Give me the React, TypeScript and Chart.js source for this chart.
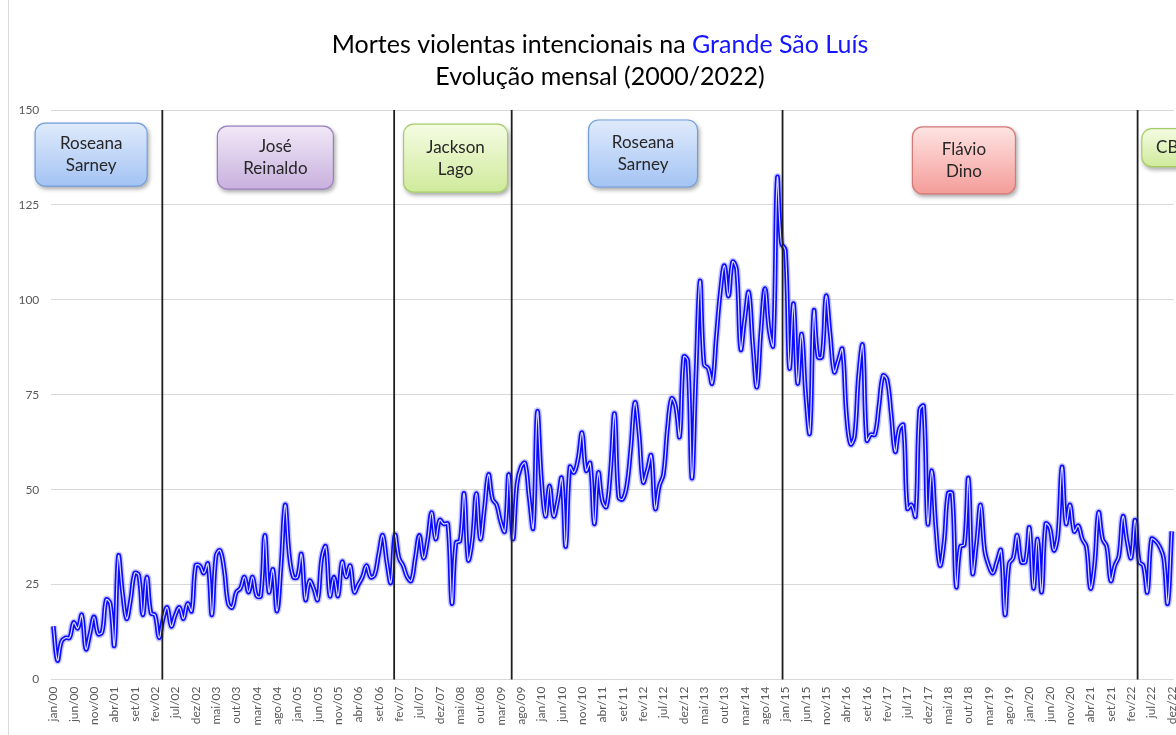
import React, { useEffect, useRef } from 'react';
import { Chart, registerables } from 'chart.js';

Chart.register(...registerables);

// ---- categories / tick labels ----
const monthNames = ['jan', 'fev', 'mar', 'abr', 'mai', 'jun', 'jul', 'ago', 'set', 'out', 'nov', 'dez'];
const yearLabels = ['00', '01', '02', '03', '04', '05', '06', '07', '08', '09', '10', '11', '12', '13', '14', '15', '16', '17', '18', '19', '20', '21', '22'];
const categories: string[] = yearLabels.flatMap((y) => monthNames.map((m) => `${m}/${y}`));
const yTicks = [0, 25, 50, 75, 100, 125, 150];

// ---- monthly values (Mortes violentas intencionais) ----
const mvi2000 = [14, 5, 10, 11, 11, 15, 13.5, 17, 8, 12, 16.5, 12];
const mvi2001 = [12.5, 21, 20, 9, 32.5, 23, 16, 21, 28, 27.5, 17, 27];
const mvi2002 = [17.5, 17, 11, 16, 19, 14, 17, 19, 16, 20, 18, 30];
const mvi2003 = [30, 28, 30.5, 17, 32.5, 34, 29, 20, 19, 23, 24, 27];
const mvi2004 = [23, 27, 22, 22, 38, 23, 29, 18, 30, 46, 33, 27];
const mvi2005 = [27, 33, 21, 26, 24, 21, 32, 35, 22, 27, 22, 31];
const mvi2006 = [27, 30, 23, 25, 27, 30, 27, 27.5, 33, 38, 31, 25.5];
const mvi2007 = [38, 32, 30, 27, 26, 32, 38, 32, 36.5, 44, 37, 42];
const mvi2008 = [41, 41, 20, 36, 36.5, 49, 31.5, 36.5, 49, 37, 45, 54];
const mvi2009 = [47.5, 46, 41.5, 39, 54, 37, 51.5, 56, 57, 48, 40, 70.5];
const mvi2010 = [53, 43, 51, 43, 47, 53, 35, 56, 54.5, 58, 65, 55];
const mvi2011 = [57, 41, 54.5, 47, 45.5, 55, 70, 48, 47.5, 51, 61, 73];
const mvi2012 = [65, 52, 55, 59, 45, 51, 54, 66, 74, 72, 64, 85];
const mvi2013 = [84, 53, 80, 105, 83, 82, 78, 90, 102, 109, 101, 110];
const mvi2014 = [108, 87, 95, 102, 88, 77, 92, 103, 92, 88, 132, 115];
const mvi2015 = [113, 82, 99, 78, 91, 75, 65, 97, 85, 85, 101, 91];
const mvi2016 = [81, 84, 87, 70, 62, 64, 80, 88, 63, 64.5, 64.5, 72];
const mvi2017 = [80, 79, 70, 60, 66, 67, 45, 46, 43, 71, 72, 41];
const mvi2018 = [55, 40, 30, 36, 49, 49, 24.5, 35, 35.5, 53, 28, 36];
const mvi2019 = [46, 34, 30, 28, 31, 34, 17, 30.5, 32, 38, 31, 31];
const mvi2020 = [40, 24, 37, 23, 41, 40, 34, 38, 56, 41, 46, 39];
const mvi2021 = [40.5, 37, 35, 24, 30, 44, 37, 35, 26, 30, 32.5, 43];
const mvi2022 = [36.5, 32, 42, 31, 30, 23, 37, 36.5, 35, 32, 20, 39];

const mvi: number[] = [
  ...mvi2000, ...mvi2001, ...mvi2002, ...mvi2003, ...mvi2004, ...mvi2005,
  ...mvi2006, ...mvi2007, ...mvi2008, ...mvi2009, ...mvi2010, ...mvi2011,
  ...mvi2012, ...mvi2013, ...mvi2014, ...mvi2015, ...mvi2016, ...mvi2017,
  ...mvi2018, ...mvi2019, ...mvi2020, ...mvi2021, ...mvi2022,
];

// ---- government changes (fractional month index) ----
const mandateBreaks = [26.8, 83.8, 112.7, 179.3, 266.6];

// ---- governor labels (month index of centre, value of top edge) ----
const governors = [
  { lines: ['Roseana', 'Sarney'], month: 9.3, topValue: 146.7, w: 113, h: 64, palette: 'blue' },
  { lines: ['José', 'Reinaldo'], month: 54.6, topValue: 145.9, w: 117, h: 64, palette: 'purple' },
  { lines: ['Jackson', 'Lago'], month: 98.9, topValue: 146.4, w: 105, h: 69, palette: 'green' },
  { lines: ['Roseana', 'Sarney'], month: 145.0, topValue: 147.5, w: 110, h: 68, palette: 'blue' },
  { lines: ['Flávio', 'Dino'], month: 223.9, topValue: 145.7, w: 104, h: 68, palette: 'red' },
  { lines: ['CB'], month: 273.9, topValue: 145.2, w: 52, h: 39, palette: 'green' },
];

const palettes: Record<string, { top: string; bottom: string; border: string }> = {
  blue: { top: '#e0ebfc', bottom: '#a3c3f3', border: '#729fd9' },
  purple: { top: '#f1e9f7', bottom: '#c8b0de', border: '#9a7fbe' },
  green: { top: '#f5fce3', bottom: '#cfea9b', border: '#a6cc6a' },
  red: { top: '#fee4e3', bottom: '#f49c98', border: '#d27a77' },
};

const FONT = 'Lato, "Open Sans", sans-serif';

const decorPlugin = {
  id: 'decor',
  beforeDraw(chart: any) {
    const { ctx } = chart;
    ctx.save();
    ctx.fillStyle = '#ffffff';
    ctx.fillRect(0, 0, chart.width, chart.height);
    ctx.strokeStyle = '#d9d9d9';
    ctx.lineWidth = 1;
    ctx.beginPath();
    ctx.moveTo(8.5, 0);
    ctx.lineTo(8.5, chart.height);
    ctx.stroke();

    // title
    const cx = 600;
    ctx.font = `25px ${FONT}`;
    ctx.textBaseline = 'alphabetic';
    ctx.textAlign = 'left';
    const p1 = 'Mortes violentas intencionais na ';
    const p2 = 'Grande São Luís';
    const w1 = ctx.measureText(p1).width;
    const w2 = ctx.measureText(p2).width;
    const x = cx - (w1 + w2) / 2;
    ctx.fillStyle = '#000000';
    ctx.fillText(p1, x, 53);
    ctx.fillStyle = '#1414ff';
    ctx.fillText(p2, x + w1, 53);
    ctx.fillStyle = '#000000';
    ctx.textAlign = 'center';
    ctx.fillText('Evolução mensal (2000/2022)', cx, 85);
    ctx.restore();
  },
  afterDatasetsDraw(chart: any) {
    const { ctx, chartArea } = chart;
    const xs = chart.scales.x;
    const ys = chart.scales.y;
    ctx.save();
    // vertical mandate lines
    ctx.strokeStyle = '#1e1e1e';
    ctx.lineWidth = 1.8;
    for (const m of mandateBreaks) {
      const px = xs.getPixelForValue(m);
      ctx.beginPath();
      ctx.moveTo(px, chartArea.top);
      ctx.lineTo(px, chartArea.bottom);
      ctx.stroke();
    }
    // governor boxes
    for (const g of governors) {
      const pal = palettes[g.palette];
      const cxp = xs.getPixelForValue(g.month);
      const top = ys.getPixelForValue(g.topValue);
      const left = cxp - g.w / 2;
      const grad = ctx.createLinearGradient(0, top, 0, top + g.h);
      grad.addColorStop(0, pal.top);
      grad.addColorStop(1, pal.bottom);
      ctx.save();
      ctx.shadowColor = 'rgba(0,0,0,0.35)';
      ctx.shadowBlur = 4;
      ctx.shadowOffsetX = 1.5;
      ctx.shadowOffsetY = 2.5;
      ctx.beginPath();
      ctx.roundRect(left, top, g.w, g.h, 10);
      ctx.fillStyle = grad;
      ctx.fill();
      ctx.restore();
      ctx.beginPath();
      ctx.roundRect(left + 0.5, top + 0.5, g.w - 1, g.h - 1, 10);
      ctx.strokeStyle = pal.border;
      ctx.lineWidth = 1.2;
      ctx.stroke();
      ctx.fillStyle = '#262626';
      ctx.font = `17px ${FONT}`;
      ctx.textAlign = 'center';
      ctx.textBaseline = 'middle';
      const cy = top + g.h / 2;
      const n = g.lines.length;
      g.lines.forEach((t: string, k: number) => {
        ctx.fillText(t, cxp, cy + (k - (n - 1) / 2) * 22);
      });
    }
    ctx.restore();
  },
};

export default function App() {
  const ref = useRef<HTMLCanvasElement>(null);
  useEffect(() => {
    const canvas = ref.current!;
    const common = { tension: 0.4, pointRadius: 0, fill: false };
    const chart = new Chart(canvas, {
      type: 'line',
      data: {
        labels: categories,
        datasets: [
          { ...common, data: mvi, borderColor: 'rgba(255,255,255,0.85)', borderWidth: 1.2, order: 0 },
          { ...common, data: mvi, borderColor: '#0a0aff', borderWidth: 4.5, order: 1 },
          { ...common, data: mvi, borderColor: 'rgba(70,70,255,0.3)', borderWidth: 7.5, order: 2 },
        ],
      },
      options: {
        animation: false,
        responsive: false,
        events: [],
        layout: { padding: { top: 110, left: 0, right: 2.2, bottom: 0 } },
        plugins: { legend: { display: false }, tooltip: { enabled: false }, title: { display: false } },
        scales: {
          x: {
            type: 'category',
            offset: true,
            grid: { display: false, drawTicks: false },
            border: { display: false },
            ticks: {
              autoSkip: false,
              maxRotation: 90,
              minRotation: 90,
              padding: 7,
              color: '#595959',
              font: { family: FONT, size: 12 },
              callback: (_v: any, i: number) => (i % 5 === 0 ? categories[i] : ''),
            },
            afterFit: (s: any) => {
              s.height = 55.5;
              s.paddingLeft = 0;
              s.paddingRight = 0;
            },
          },
          y: {
            min: 0,
            max: 150,
            afterBuildTicks: (s: any) => {
              s.ticks = yTicks.map((v) => ({ value: v }));
            },
            ticks: { padding: 12, color: '#595959', font: { family: FONT, size: 12 } },
            grid: { color: '#d9d9d9', drawTicks: false, lineWidth: 1 },
            border: { display: false },
            afterFit: (s: any) => {
              s.width = 51.3;
              s.paddingTop = 0;
              s.paddingBottom = 0;
            },
          },
        },
      },
      plugins: [decorPlugin],
    } as any);
    return () => chart.destroy();
  }, []);
  return (
    <div style={{ position: 'absolute', left: 0, top: 0, width: 1176, height: 735, background: '#fff' }}>
      <canvas ref={ref} width={1176} height={735} style={{ display: 'block' }} />
    </div>
  );
}
